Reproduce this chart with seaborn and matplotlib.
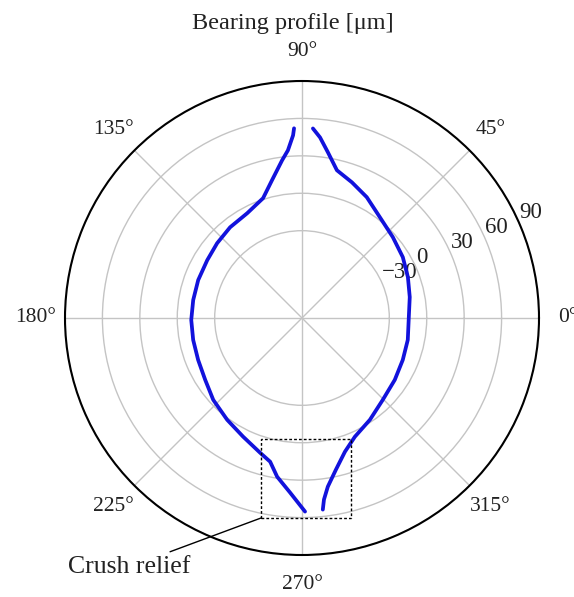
import numpy as np
import pandas as pd
import matplotlib
matplotlib.use("Agg")
import matplotlib.pyplot as plt
from matplotlib.patches import Rectangle
import seaborn as sns

# ---- data (angles in degrees, profile in micrometres) ----
right_theta = [276.2, 276.9, 278.7, 282.6, 287.8, 294.0, 303.7, 314.6, 326.3, 337.4,
               348.3, 360.0, 371.0, 381.1, 391.1, 401.7, 412.3, 421.8, 429.8, 436.7,
               441.1, 444.3, 446.7]
right_r = [54.5, 46.6, 36.8, 24.6, 12.6, 4.2, -1.9, -7.8, -10.6, -12.5,
           -13.4, -14.4, -12.0, -9.0, -5.6, -2.5, 2.1, 9.9, 15.9, 21.7,
           34.4, 45.5, 52.2]
left_theta = [92.4, 92.8, 94.8, 97.2, 102.3, 108.0, 117.6, 128.4, 138.6, 148.6,
              159.9, 170.6, 181.0, 191.4, 202.0, 212.6, 222.7, 233.7, 243.6, 252.7,
              257.5, 261.1, 266.1, 270.9]
left_r = [52.2, 46.6, 34.9, 27.4, 13.0, 1.0, -5.2, -7.2, -9.3, -11.0,
          -11.4, -11.6, -11.2, -11.0, -10.2, -7.9, -3.2, 1.3, 6.2, 13.1,
          18.0, 28.8, 40.3, 55.2]
r_ticks = [-30, 0, 30, 60, 90]
theta_ticks = [0, 45, 90, 135, 180, 225, 270, 315]
title = "Bearing profile [\u03bcm]"
note = "Crush relief"

sns.set_theme(style="white")
plt.rcParams["font.family"] = ["Liberation Serif", "DejaVu Serif"]
plt.rcParams["font.size"] = 15.5

fig = plt.figure(figsize=(5.74, 5.97), dpi=100)
W, H = 574, 597
ax = fig.add_axes([65 / W, (H - 555) / H, 474 / W, 474 / H], projection="polar")

blue = "#1212dc"
for th, rr in [(right_theta, right_r), (left_theta, left_r)]:
    df = pd.DataFrame({"theta": np.deg2rad(th), "r": rr})
    sns.lineplot(data=df, x="theta", y="r", ax=ax, sort=False, color=blue,
                 lw=2.7, estimator=None)

ax.set_rlim(-100, 90)
ax.set_rticks(r_ticks)
ax.set_rlabel_position(23.5)
ax.set_thetagrids(theta_ticks, labels=[f"{t}\u00b0" for t in theta_ticks])
ax.set_xlabel("")
ax.set_ylabel("")
ax.grid(True, color="#c4c4c4", lw=1.0)
ax.spines["polar"].set_color("black")
ax.spines["polar"].set_linewidth(1.5)
ax.tick_params(axis="x", pad=8, labelsize=15.5, colors="#222222")
ax.tick_params(axis="y", labelsize=16.5, colors="#222222")

fig.text(293 / W, 1 - 23 / H, title, ha="center", va="center", fontsize=17.5, color="#222222")

# crush relief box and label
x0, y0 = (261 - 65) / 474, (555 - 518) / 474
w, h = (351 - 261) / 474, (518 - 439) / 474
ax.add_patch(Rectangle((x0, y0), w, h, transform=ax.transAxes, fill=False,
                       ec="black", lw=1.0, ls=(0, (2, 1.5)), clip_on=False, zorder=5))
ax.annotate(note, xy=(x0, y0), xycoords="axes fraction",
            xytext=((129 - 65) / 474, (555 - 567) / 474), textcoords="axes fraction",
            ha="center", va="center", fontsize=18.5, color="#222222",
            arrowprops=dict(arrowstyle="-", color="black", lw=1.0, shrinkA=2, shrinkB=0),
            annotation_clip=False)

fig.savefig("out.png", dpi=100)
